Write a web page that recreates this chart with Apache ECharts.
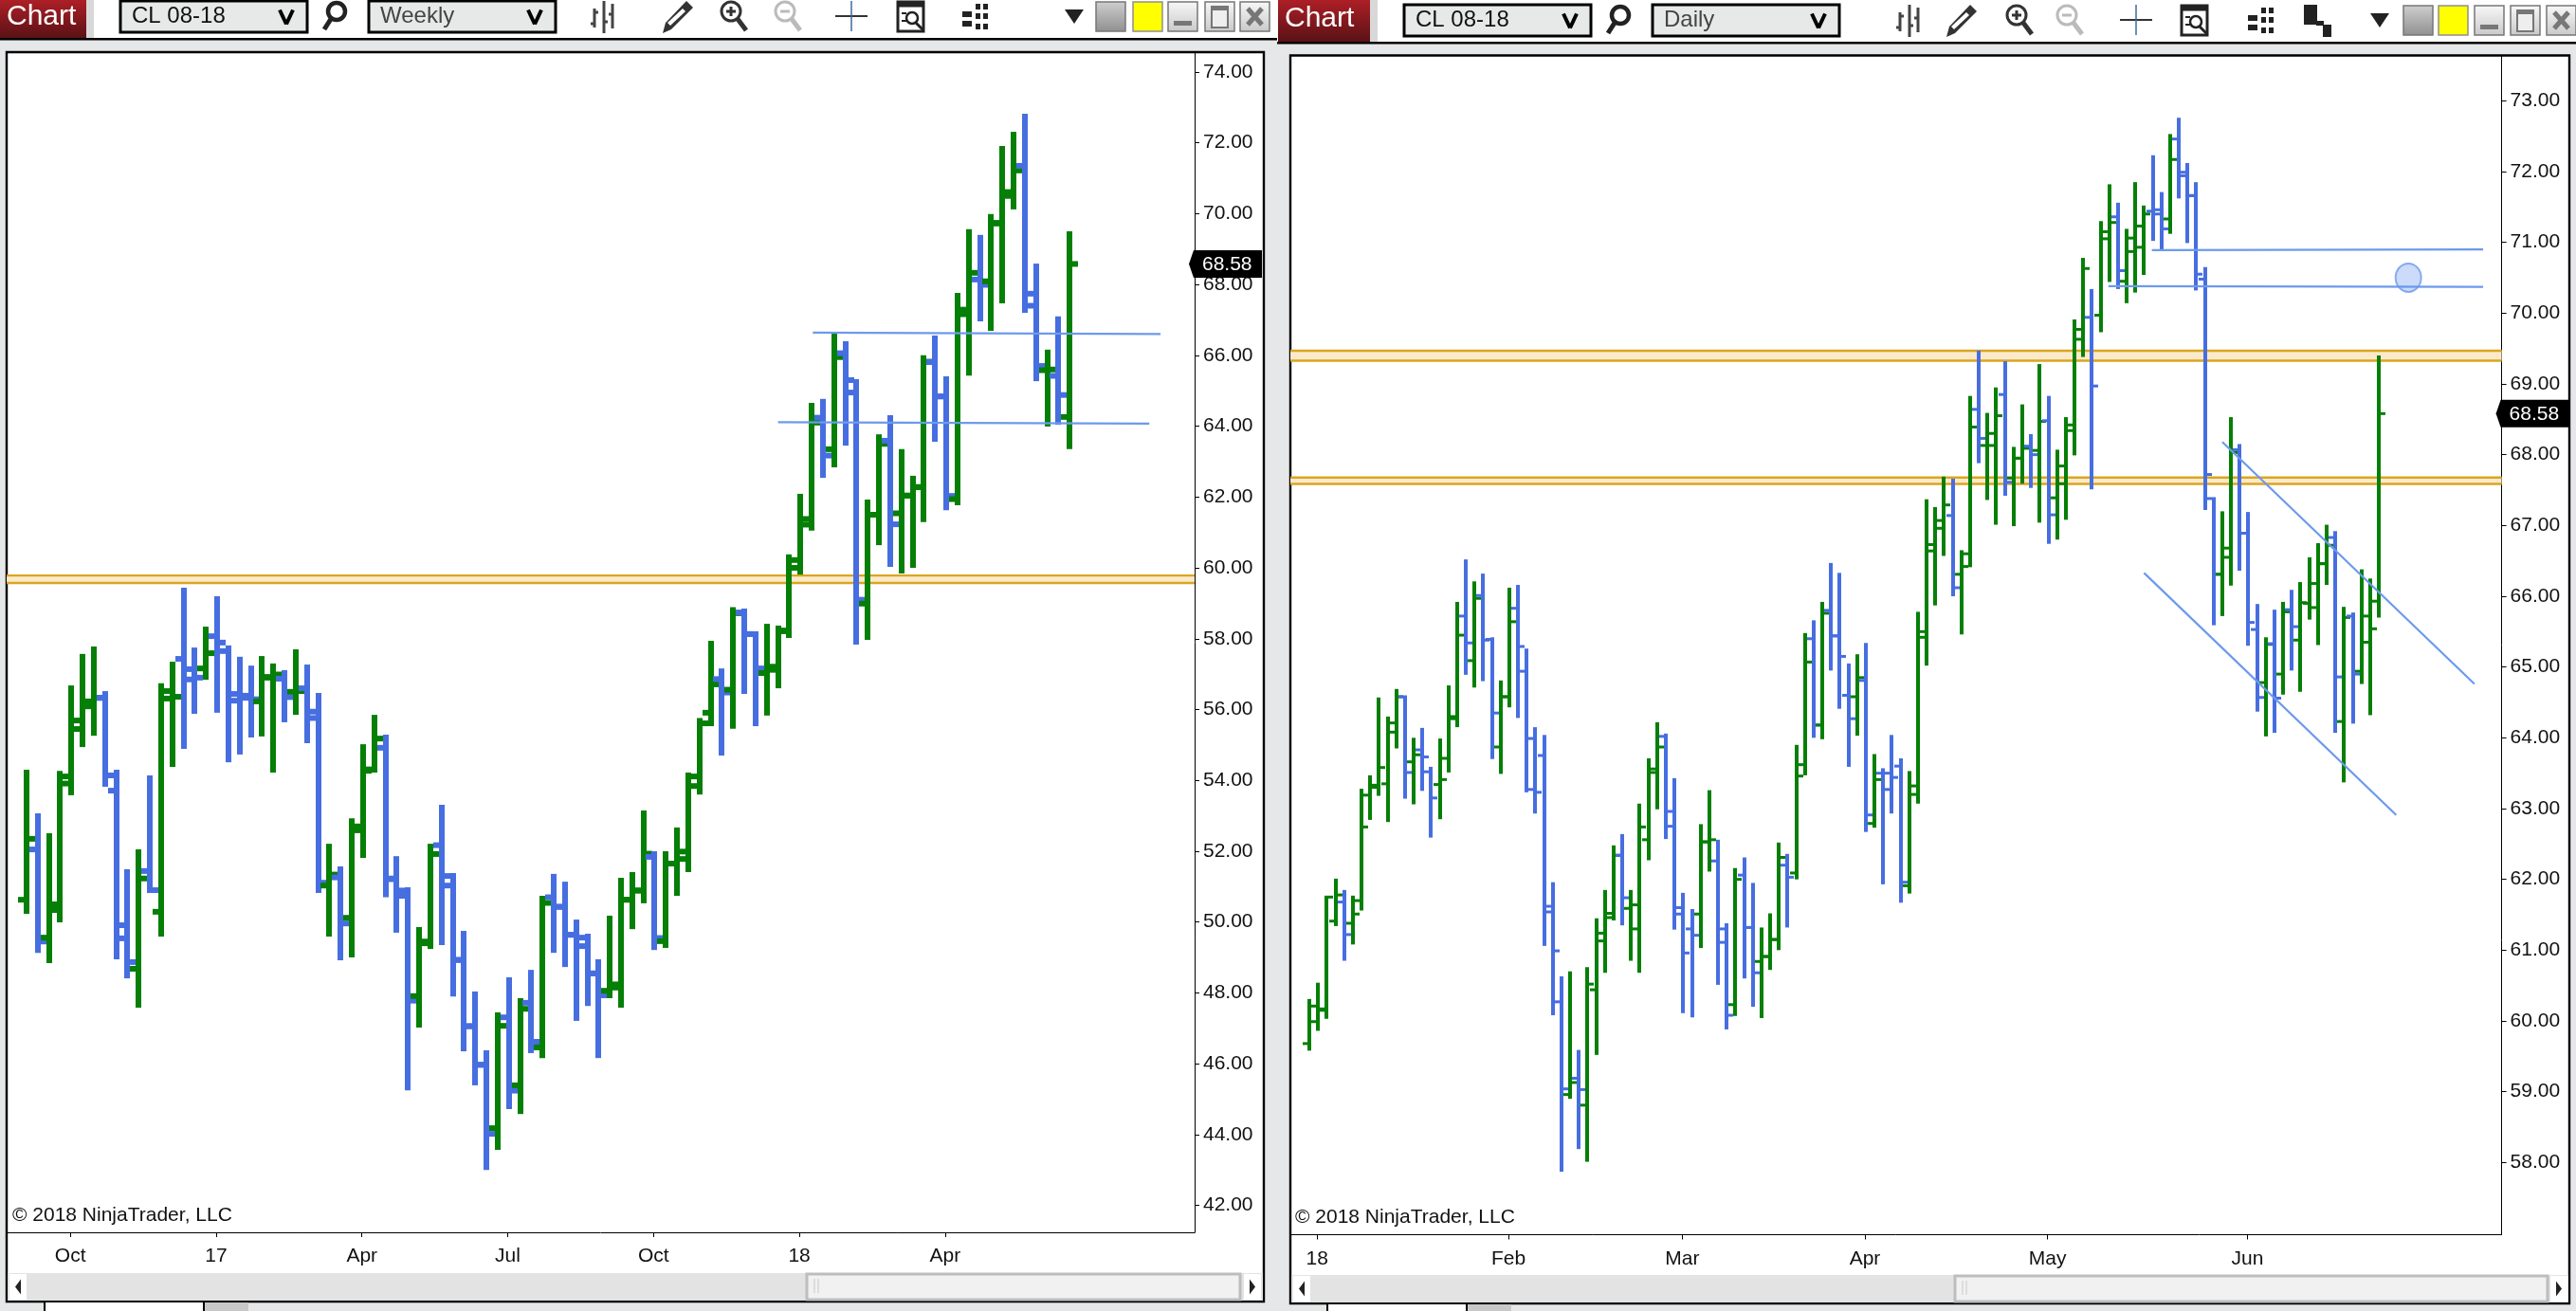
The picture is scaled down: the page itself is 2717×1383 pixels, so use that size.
<!DOCTYPE html>
<html><head><meta charset="utf-8">
<style>html,body{margin:0;padding:0;background:#E6E7E8;overflow:hidden}#c{width:2717px;height:1383px}</style>
<script src="https://cdn.jsdelivr.net/npm/echarts@6/dist/echarts.min.js"></script>
</head><body><div id="c"></div>
<script>
const weekOpen=[50.63,52.05,49.56,50.34,53.91,55.45,56.09,56.33,53.71,49.54,48.68,51.44,50.29,56.31,57.43,57.14,57.16,58.07,57.65,56.44,56.33,56.23,56.90,56.87,56.50,56.60,55.76,51.03,51.26,50.12,52.59,54.31,54.92,51.21,50.74,47.91,49.40,52.17,51.03,48.93,47.06,45.97,44.18,47.31,45.39,47.72,46.46,50.70,50.43,49.64,49.32,48.55,48.06,48.15,50.63,50.89,51.84,49.46,51.65,51.78,53.84,55.91,56.86,56.56,58.74,58.13,57.03,57.12,58.21,60.00,61.22,64.24,63.35,66.06,64.95,58.99,61.50,63.59,61.54,62.04,62.28,65.81,64.84,61.94,67.16,68.14,68.09,69.72,70.50,71.35,67.40,65.58,65.42,64.26];
const weekHigh=[54.30,53.07,52.51,54.27,56.68,57.57,57.78,56.52,54.30,51.49,52.05,54.14,56.74,57.35,59.44,57.75,58.34,59.20,57.81,57.49,57.24,57.51,57.30,57.11,57.70,57.27,56.47,52.21,51.57,52.93,55.02,55.85,55.29,51.86,50.98,49.86,52.21,53.31,51.38,49.75,48.04,46.38,47.45,48.44,47.85,48.65,50.74,51.36,51.14,50.07,49.67,48.95,50.18,51.25,51.41,53.15,52.00,52.00,52.67,54.22,55.76,57.94,57.16,58.89,58.85,58.21,58.42,58.37,60.38,62.09,64.66,64.77,66.61,66.40,65.33,61.93,63.77,64.31,63.35,62.60,66.00,66.56,65.41,67.76,69.56,69.40,69.99,71.91,72.31,72.82,68.59,66.16,67.10,69.50];
const weekLow=[50.23,49.13,48.84,49.99,53.58,54.94,55.26,53.82,48.95,48.41,47.58,50.82,49.59,54.38,54.89,55.88,56.84,55.91,54.51,54.73,55.21,55.24,54.22,55.64,55.85,55.05,50.82,49.59,48.92,49.00,51.81,54.22,50.70,49.70,45.25,47.02,49.24,49.35,47.90,46.35,45.39,43.00,43.57,44.72,44.58,46.30,46.16,49.13,48.73,47.21,47.63,46.16,47.85,47.58,49.80,50.53,49.21,49.27,50.74,51.41,53.60,55.53,54.70,55.46,56.44,55.53,55.83,56.60,58.02,59.81,61.05,62.54,62.84,63.45,57.83,57.97,60.64,60.03,59.84,60.00,61.29,63.56,61.63,61.77,65.43,66.96,66.69,67.47,70.12,67.20,65.27,63.99,64.04,63.35];
const weekClose=[52.35,49.45,50.50,54.11,55.69,56.23,56.33,54.14,49.91,48.87,51.23,50.90,56.52,56.36,56.85,56.90,57.59,57.89,56.25,56.39,56.29,56.92,56.99,56.35,56.52,55.94,51.11,51.34,49.96,52.70,54.27,55.18,51.23,50.89,47.78,49.45,51.92,51.30,48.93,47.06,45.97,44.02,47.07,45.24,47.55,46.62,50.54,50.43,49.64,49.56,48.55,47.93,48.24,50.63,50.89,51.93,49.55,51.65,51.99,54.11,55.61,56.71,56.48,58.72,58.13,57.16,57.21,58.23,60.22,61.38,64.10,63.17,65.95,65.30,59.10,61.50,63.50,61.23,62.04,62.28,65.82,64.84,62.03,67.29,68.33,67.99,69.74,70.61,71.22,67.74,65.70,65.60,64.88,68.58];
const weekTicks=[3.9,16.9,29.9,42.9,55.9,68.9,81.9];
const weekTickLabels=['Oct','17','Apr','Jul','Oct','18','Apr'];
const weekPriceTicks=[42,44,46,48,50,52,54,56,58,60,62,64,66,68,70,72,74];
const weekGoldBand=[59.58,59.79];
const weekLineA=[[70.1,66.64],[101.1,66.60]];
const weekLineB=[[67.0,64.11],[100.1,64.07]];

const dayOpen=[59.68,59.99,60.15,61.41,61.68,61.38,61.70,63.19,63.30,63.35,64.08,64.58,63.66,63.83,63.52,63.34,63.71,64.27,65.72,65.09,66.01,65.39,63.87,64.58,65.83,64.94,63.27,63.75,61.54,60.27,58.96,59.19,58.81,60.44,61.13,61.46,62.34,61.59,61.30,62.56,63.51,64.02,62.75,61.51,61.30,61.51,62.53,62.26,61.11,60.23,62.06,61.32,60.84,60.91,61.15,62.20,62.09,63.46,65.40,64.18,65.80,65.44,64.60,64.58,64.81,62.79,63.50,63.50,63.60,61.91,63.20,65.42,66.64,66.96,67.14,66.31,66.42,68.64,68.13,68.13,68.85,67.67,67.95,68.12,68.06,68.48,67.39,67.59,68.34,69.63,69.94,69.97,71.05,71.36,70.45,70.87,70.93,71.44,71.46,71.33,72.46,71.94,71.66,70.48,67.38,66.31,66.55,68.07,66.89,65.53,64.78,65.33,64.90,65.81,65.38,65.90,65.84,66.46,66.83,64.23,65.72,64.94,65.35,65.93];
const dayHigh=[60.31,60.54,61.77,62.01,61.85,61.77,63.28,63.47,64.57,64.30,64.69,64.60,64.00,64.14,63.59,63.99,64.74,65.92,66.52,66.21,66.32,65.42,64.81,66.12,66.16,65.26,64.15,64.04,61.96,60.63,60.70,59.59,60.76,61.45,61.85,62.48,62.64,61.85,63.07,63.71,64.22,64.06,63.43,61.81,61.58,62.78,63.26,62.56,61.38,62.16,62.31,61.95,61.32,61.52,62.52,62.36,63.90,65.48,65.66,65.92,66.47,66.33,65.05,65.18,65.34,63.77,63.57,64.04,63.71,63.53,65.78,67.37,67.26,67.69,67.66,66.65,68.83,69.47,68.59,68.95,69.32,68.11,68.71,68.29,69.28,68.83,68.07,68.53,69.91,70.78,70.34,71.30,71.82,71.56,71.19,71.85,71.52,72.23,71.71,72.53,72.76,72.12,71.85,70.65,67.40,67.20,68.53,68.15,67.19,65.89,65.42,65.81,65.92,66.09,66.20,66.55,66.75,67.01,66.92,65.85,65.77,66.38,66.25,69.40];
const dayLow=[59.58,59.86,60.03,61.34,60.85,61.08,61.56,62.84,63.18,62.81,63.85,63.14,63.06,63.25,62.59,62.85,63.51,64.15,64.89,64.71,64.80,63.70,63.49,64.43,64.28,63.23,62.93,61.06,60.08,57.87,58.90,58.19,58.01,59.52,60.68,61.42,61.35,60.85,60.68,62.27,62.99,62.57,61.29,60.11,60.05,61.03,62.11,60.51,59.88,60.07,60.60,60.20,60.04,60.72,61.00,61.32,62.00,63.47,64.00,63.98,64.95,64.41,63.59,64.03,62.67,62.73,61.93,62.93,61.67,61.80,63.07,65.02,65.87,66.57,66.00,65.46,66.41,67.88,67.36,67.01,67.42,66.99,67.59,67.53,67.04,66.74,66.80,67.08,67.99,69.38,67.51,69.73,70.44,70.34,70.14,70.29,70.54,71.02,70.89,71.12,71.62,70.99,70.32,67.22,65.59,65.72,66.15,66.36,65.30,64.37,64.02,64.07,64.61,64.95,64.65,65.67,65.31,66.16,64.07,63.37,64.20,64.76,64.32,65.70];
const dayClose=[60.21,60.17,61.75,61.78,61.22,61.51,62.74,63.33,63.58,64.21,64.58,63.51,63.76,63.73,63.15,63.41,64.30,65.45,65.34,65.97,65.38,64.35,64.58,65.64,65.29,63.99,63.23,61.62,60.99,59.04,59.13,59.03,60.52,61.24,61.52,62.34,61.74,61.64,62.74,63.56,63.87,62.96,61.60,60.96,61.21,62.53,62.56,61.30,60.08,62.00,61.32,60.68,60.91,61.15,62.31,62.03,63.62,65.07,64.18,65.76,65.44,65.15,64.27,64.85,62.91,63.41,63.27,63.44,61.96,63.32,65.50,66.73,67.07,67.29,66.12,66.60,68.39,68.23,68.30,68.55,67.61,67.95,68.09,68.00,68.47,67.15,67.84,68.42,69.77,70.63,68.97,71.15,71.28,70.60,71.06,71.23,71.40,71.40,71.19,72.17,71.99,71.66,70.55,67.72,66.31,66.68,68.03,66.89,65.63,64.57,65.32,64.56,65.78,65.57,65.91,66.18,66.46,66.72,64.86,65.70,64.90,65.72,65.54,68.58];
const dayTicks=[0.9,22.9,42.9,63.9,84.9,107.9];
const dayTickLabels=['18','Feb','Mar','Apr','May','Jun'];
const dayPriceTicks=[58,59,60,61,62,63,64,65,66,67,68,69,70,71,72,73];
const dayGoldBands=[[67.59,67.68],[69.33,69.47]];
const dayLineA=[[96.9,70.89],[135,70.90]];
const dayLineB=[[91.9,70.38],[135,70.37]];
const dayLineC=[[105,68.18],[134,64.76]];
const dayLineD=[[96,66.33],[125,62.91]];
const dayCircle=[[126.4,70.50]];
const lastPrice=68.58;

const UP='#067F06',DOWN='#476EE0',GOLD='#DAA520',BAND='#FAEACB',TREND='#6C9AEC',FONT='"Liberation Sans",Arial,sans-serif';

function ohlcRender(w,t,tl){return function(p,api){
  const x=api.value(0),o=api.value(1),h=api.value(2),l=api.value(3),c=api.value(4);
  const cx=Math.round(api.coord([x,h])[0]);
  const yH=api.coord([x,h])[1],yL=api.coord([x,l])[1],yO=api.coord([x,o])[1],yC=api.coord([x,c])[1];
  const fill=c>=o?UP:DOWN;
  const left=cx-w/2;
  return {type:'group',children:[
    {type:'rect',shape:{x:left,y:yH,width:w,height:yL-yH},style:{fill}},
    {type:'rect',shape:{x:left-tl,y:yO-t/2,width:tl,height:t},style:{fill}},
    {type:'rect',shape:{x:left+w,y:yC-t/2,width:tl,height:t},style:{fill}}
  ]};
};}
function bandRender(p,api){
  const cs=p.coordSys;
  const yLo=api.coord([0,api.value(0)])[1],yHi=api.coord([0,api.value(1)])[1];
  return {type:'group',children:[
    {type:'rect',shape:{x:cs.x,y:yHi,width:cs.width,height:yLo-yHi},style:{fill:BAND}},
    {type:'rect',shape:{x:cs.x,y:yHi-1,width:cs.width,height:2.4},style:{fill:GOLD}},
    {type:'rect',shape:{x:cs.x,y:yLo-1,width:cs.width,height:2.4},style:{fill:GOLD}}
  ]};
}
function tagRender(p,api){
  const cs=p.coordSys,y=api.coord([0,api.value(0)])[1],x=cs.x+cs.width;
  const h=14.5,tx=x-6,r=x+71;
  return {type:'group',children:[
    {type:'polygon',shape:{points:[[tx,y],[tx+5,y-h],[r,y-h],[r,y+h],[tx+5,y+h]]},style:{fill:'#000'}},
    {type:'text',style:{x:tx+14,y:y+1,text:api.value(0).toFixed(2),fill:'#fff',font:'21px '+FONT,align:'left',verticalAlign:'middle'}}
  ]};
}
function lineSer(data,ax){return {type:'line',data,xAxisIndex:ax,yAxisIndex:ax,showSymbol:false,silent:true,z:6,lineStyle:{color:TREND,width:2.2},animation:false};}
function ohlcData(o,h,l,c){return o.map((v,i)=>[i,v,h[i],l[i],c[i]]);}

function xAx(idx,min,max,ticks,labels){return {gridIndex:idx,type:'value',min,max,position:'bottom',
  axisLine:{show:true,onZero:false,lineStyle:{color:'#000',width:1}},
  axisTick:{show:true,length:5,customValues:ticks,lineStyle:{color:'#000'}},
  axisLabel:{show:true,margin:15,fontSize:21,fontFamily:FONT,color:'#111',customValues:ticks,hideOverlap:false,
    formatter:v=>labels[ticks.findIndex(t=>Math.abs(t-v)<0.01)]||''},
  splitLine:{show:false}};}
function yAx(idx,min,max,ticks){return {gridIndex:idx,type:'value',min,max,position:'right',scale:true,
  axisLine:{show:true,onZero:false,lineStyle:{color:'#000',width:1}},
  axisTick:{show:true,length:5,customValues:ticks,lineStyle:{color:'#000'}},
  axisLabel:{show:true,margin:9,fontSize:21,fontFamily:FONT,color:'#111',padding:[3,0,0,0],customValues:ticks,formatter:v=>Number(v).toFixed(2)},
  splitLine:{show:false}};}

/* ---------- window chrome ---------- */
const G=[];
function rect(x,y,w,h,fill,stroke,lw,z){G.push({type:'rect',silent:true,z:z??-5,shape:{x,y,width:w,height:h},style:{fill:fill||'none',stroke:stroke||null,lineWidth:lw||0}});}
function line(x1,y1,x2,y2,c,w){G.push({type:'line',silent:true,z:-4,shape:{x1,y1,x2,y2},style:{stroke:c,lineWidth:w}});}
function poly(pts,fill){G.push({type:'polygon',silent:true,z:-4,shape:{points:pts},style:{fill}});}
function circ(cx,cy,r,stroke,w){G.push({type:'circle',silent:true,z:-4,shape:{cx,cy,r},style:{fill:'none',stroke,lineWidth:w}});}
function text(x,y,t,size,color,z){G.push({type:'text',silent:true,z:z??-3,style:{x,y,text:t,font:size+'px '+FONT,fill:color,align:'left',verticalAlign:'middle'}});}
function grad(a,b){return {type:'linear',x:0,y:0,x2:0,y2:1,colorStops:[{offset:0,color:a},{offset:1,color:b}]};}

function dropdown(x,y,w,h,label,color){rect(x,y,w,h,'#E7E9E9','#000',3);text(x+12,y+h/2,label,24,color);
  const cx=x+w-22,cy=y+h/2;line(cx-7,cy-7,cx,cy+8,'#000',4);line(cx+7,cy-7,cx,cy+8,'#000',4);}
function magnifier(cx,cy,c,sign){circ(cx-3,cy-5,10,c,3);line(cx+4,cy+3,cx+13,cy+15,c,5);
  if(sign){line(cx-8,cy-5,cx+2,cy-5,c,3);if(sign==='+')line(cx-3,cy-10,cx-3,cy,c,3);}}
function toolbar(o){
  rect(o.x0,0,o.x1-o.x0,o.h,'#fff');
  rect(o.x0,o.h,o.x1-o.x0,2.5,'#000');
  rect(o.btn[0]+4,0,o.btn[1]-o.btn[0]+4,o.h,'#D8D8D8');
  rect(o.btn[0],0,o.btn[1]-o.btn[0],o.h,grad('#AD1F26','#5A1216'));
  text(o.btn[0]+7,o.h/2-2,'Chart',30,'#fff');
  dropdown(o.dd1,o.dy,197,33,'CL 08-18','#111');
  dropdown(o.dd2,o.dy,197,33,o.period,'#444');
  // search
  const sx=o.icons.search,cy=o.dy+16;
  circ(sx+3,cy-5,9,'#222',4.5);line(sx-3,cy+3,sx-10,cy+14,'#222',5);
  // bars icon
  const bx=o.icons.bars;
  [[-10,10,26],[0,2,32],[9,5,27]].forEach(b=>{line(bx+b[0],o.dy+b[1]-2,bx+b[0],o.dy+b[2]+2,'#444',3);});
  line(bx-14,o.dy+24,bx-10,o.dy+24,'#444',3);line(bx-10,o.dy+12,bx-6,o.dy+12,'#444',3);line(bx,o.dy+22,bx+4,o.dy+22,'#444',3);line(bx+5,o.dy+14,bx+9,o.dy+14,'#444',3);
  // pencil
  const px=o.icons.pencil;
  poly([[px+11,o.dy],[px+18,o.dy+7],[px-5,o.dy+30],[px-14,o.dy+34],[px-11,o.dy+23]],'#333');
  poly([[px+7,o.dy+8],[px+10,o.dy+11],[px-6,o.dy+26],[px-9,o.dy+23]],'#fff');
  magnifier(o.icons.zin,cy,'#333','+');
  magnifier(o.icons.zout,cy,'#BBB','-');
  const cr=o.icons.cross;line(cr-17,cy,cr+17,cy,'#333',2);line(cr,o.dy,cr,o.dy+32,'#3C6A9A',1.5);
  const dc=o.icons.doc;rect(dc-14,o.dy+1,27,31,'#fff','#222',3,-4);line(dc-14,o.dy+4,dc+13,o.dy+4,'#222',5);
  circ(dc+1,cy+2,6,'#222',2.5);line(dc+5,cy+7,dc+13,cy+15,'#222',3);line(dc-10,cy-3,dc-5,cy-3,'#222',2);line(dc-10,cy+5,dc-5,cy+5,'#222',2);
  const gx=o.icons.grid;
  [[-14,11],[0,3],[8,3],[0,13],[8,13],[0,24],[8,24],[-14,21]].forEach(d=>rect(gx+d[0],o.dy+d[1],d[0]<0?10:5,6,'#222',null,0,-4));
  if(o.icons.layers){const lx=o.icons.layers;rect(lx-14,o.dy,14,21,'#222',null,0,-4);rect(lx-1,o.dy+17,8,5,'#222',null,0,-4);rect(lx+6,o.dy+21,9,13,'#222',null,0,-4);}
  const tx=o.icons.tri;poly([[tx-10,cy-7],[tx+10,cy-7],[tx,cy+8]],'#222');
  const wy=o.win.y,wh=31;
  rect(o.win.gray,wy,31,wh,grad('#CFCFCF','#8F8F8F'),'#777',1.5);
  rect(o.win.yel,wy,31,wh,'#FFFF00','#8E8E8E',1.5);
  rect(o.win.min,wy,31,wh,grad('#F8F8F8','#C9C9C9'),'#777',1.5);rect(o.win.min+6,wy+20,19,5,'#777');
  rect(o.win.max,wy,31,wh,grad('#F8F8F8','#C9C9C9'),'#777',1.5);rect(o.win.max+7,wy+5,17,22,'#EEE','#777',2);rect(o.win.max+7,wy+5,17,4,'#777');
  rect(o.win.x,wy,31,wh,grad('#F8F8F8','#C9C9C9'),'#777',1.5);line(o.win.x+8,wy+7,o.win.x+23,wy+24,'#777',5);line(o.win.x+23,wy+7,o.win.x+8,wy+24,'#777',5);
}
function frame(x0,y0,x1,y1,sb){
  rect(x0,y0,x1-x0,y1-y0,'#fff','#000',2.4);
  rect(x0+1,sb.y,x1-x0-2,sb.h,'#E3E3E3');
  rect(sb.la,sb.y+1,18,sb.h-2,'#fff');
  poly([[sb.la+12,sb.y+sb.h/2-8],[sb.la+12,sb.y+sb.h/2+8],[sb.la+6,sb.y+sb.h/2]],'#222');
  rect(sb.t0,sb.y+1,sb.t1-sb.t0,sb.h-2,'#F1F1F1','#BDBDBD',3);
  line(sb.t0+8,sb.y+6,sb.t0+8,sb.y+sb.h-8,'#C8C8C8',1);line(sb.t0+12,sb.y+6,sb.t0+12,sb.y+sb.h-8,'#C8C8C8',1);
  rect(sb.ra,sb.y+1,18,sb.h-2,'#fff');
  poly([[sb.ra+6,sb.y+sb.h/2-8],[sb.ra+6,sb.y+sb.h/2+8],[sb.ra+12,sb.y+sb.h/2]],'#222');
}
toolbar({x0:0,x1:1347,h:40,btn:[0,91],dd1:127,dd2:389,dy:1,period:'Weekly',
  icons:{search:352,bars:637,pencil:713,zin:774,zout:831,cross:898,doc:961,grid:1029,tri:1133},
  win:{y:2,gray:1156,yel:1195,min:1232,max:1271,x:1308}});
toolbar({x0:1347,x1:2717,h:44,btn:[1348,1445],dd1:1481,dd2:1743,dy:5,period:'Daily',
  icons:{search:1706,bars:2014,pencil:2067,zin:2130,zout:2183,cross:2253,doc:2315,grid:2385,layers:2444,tri:2510},
  win:{y:6,gray:2535,yel:2572,min:2610,max:2648,x:2686}});
frame(7,55,1333,1373,{y:1343,h:29,la:10,ra:1312,t0:851,t1:1308});
frame(1361,58.5,2710,1375,{y:1345,h:29,la:1364,ra:2690,t0:2062,t1:2687});
// tabs below the frames
rect(47,1374,168,9,'#fff');rect(215,1374,47,9,'#C8C8C8');line(47,1374,47,1383,'#000',2);line(215,1374,215,1383,'#000',2);
rect(1400,1376,147,7,'#fff');rect(1547,1376,47,7,'#C8C8C8');line(1400,1376,1400,1383,'#000',2);line(1547,1376,1547,1383,'#000',2);
text(13,1282,'© 2018 NinjaTrader, LLC',21,'#111',20);
text(1366,1284,'© 2018 NinjaTrader, LLC',21,'#111',20);

const chart=echarts.init(document.getElementById('c'),null,{renderer:'canvas',width:2717,height:1383});
chart.setOption({
  animation:false,
  backgroundColor:'#E6E7E8',
  grid:[
    {left:7,top:55,width:1253,height:1245,containLabel:false},
    {left:1361,top:58.5,width:1277.6,height:1244,containLabel:false}
  ],
  xAxis:[xAx(0,-1.775,104.14,weekTicks,weekTickLabels),xAx(1,-2.18,137.13,dayTicks,dayTickLabels)],
  yAxis:[yAx(0,41.24,74.56,weekPriceTicks),yAx(1,56.98,73.64,dayPriceTicks)],
  graphic:{elements:G},
  series:[
    {type:'custom',xAxisIndex:0,yAxisIndex:0,z:1,silent:true,renderItem:bandRender,data:[weekGoldBand],encode:{y:[0,1]}},
    {type:'custom',xAxisIndex:1,yAxisIndex:1,z:1,silent:true,renderItem:bandRender,data:dayGoldBands,encode:{y:[0,1]}},
    {type:'custom',xAxisIndex:0,yAxisIndex:0,z:3,silent:true,renderItem:ohlcRender(6,6,6),data:ohlcData(weekOpen,weekHigh,weekLow,weekClose),encode:{x:0,y:[1,2,3,4]}},
    {type:'custom',xAxisIndex:1,yAxisIndex:1,z:3,silent:true,renderItem:ohlcRender(4,3,5),data:ohlcData(dayOpen,dayHigh,dayLow,dayClose),encode:{x:0,y:[1,2,3,4]}},
    lineSer(weekLineA,0),lineSer(weekLineB,0),
    lineSer(dayLineA,1),lineSer(dayLineB,1),lineSer(dayLineC,1),lineSer(dayLineD,1),
    {type:'scatter',xAxisIndex:1,yAxisIndex:1,z:7,silent:true,data:dayCircle,symbolSize:[27,30],itemStyle:{color:'rgba(100,149,237,0.42)',borderColor:'#6C9AEC',borderWidth:2}},
    {type:'custom',xAxisIndex:0,yAxisIndex:0,z:8,silent:true,clip:false,renderItem:tagRender,data:[[lastPrice]],encode:{y:0}},
    {type:'custom',xAxisIndex:1,yAxisIndex:1,z:8,silent:true,clip:false,renderItem:tagRender,data:[[lastPrice]],encode:{y:0}}
  ]
});
</script></body></html>
